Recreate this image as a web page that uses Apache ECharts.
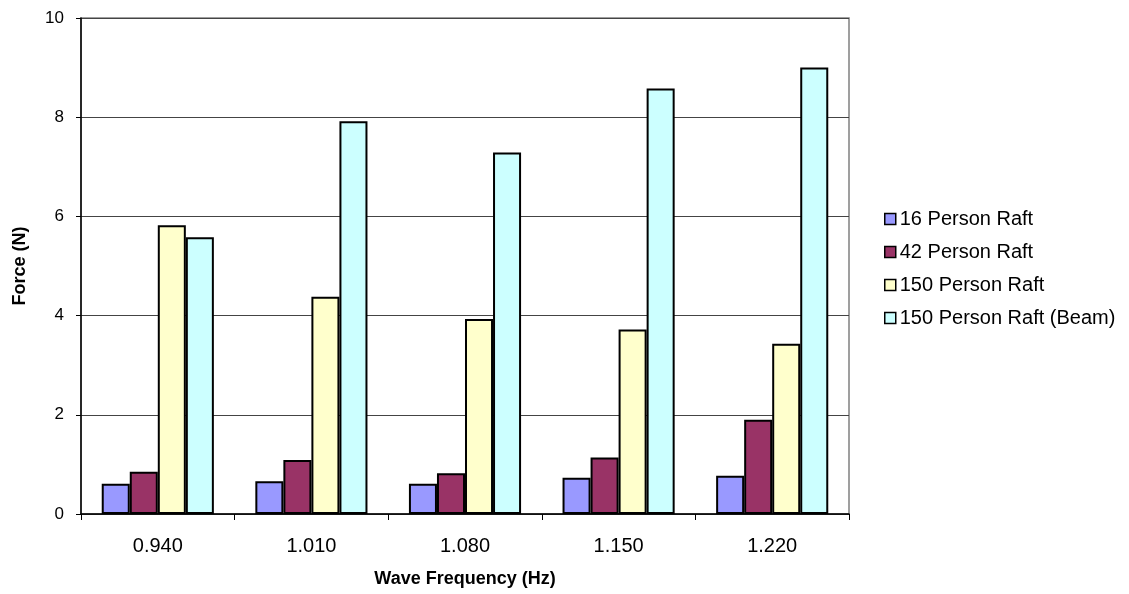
<!DOCTYPE html>
<html>
<head>
<meta charset="utf-8">
<script src="https://cdn.jsdelivr.net/npm/echarts@6/dist/echarts.min.js"></script>
<style>
html,body{margin:0;padding:0;background:#fff;}
#chart{width:1129px;height:594px;}
</style>
</head>
<body>
<div id="chart"></div>
<script>
const categories = ['0.940', '1.010', '1.080', '1.150', '1.220'];
const seriesNames = ['16 Person Raft', '42 Person Raft', '150 Person Raft', '150 Person Raft (Beam)'];
const raft16 = [0.61, 0.66, 0.61, 0.73, 0.77];
const raft42 = [0.85, 1.09, 0.82, 1.14, 1.90];
const raft150 = [5.82, 4.38, 3.93, 3.72, 3.43];
const raft150Beam = [5.58, 7.92, 7.29, 8.58, 9.00];
const colors = ['#9999FF', '#993366', '#FFFFCC', '#CCFFFF'];

const FONT = "'Liberation Sans', Arial, sans-serif";
const allData = [raft16, raft42, raft150, raft150Beam];

const chart = echarts.init(document.getElementById('chart'), null, {renderer: 'canvas'});
chart.setOption({
  animation: false,
  backgroundColor: '#ffffff',
  textStyle: {fontFamily: FONT, color: '#000'},
  grid: {left: 81, top: 18, right: 280, bottom: 80, show: true, borderColor: '#808080', borderWidth: 1.5},
  legend: {
    orient: 'vertical',
    left: 879,
    top: 204,
    itemWidth: 11,
    itemHeight: 11,
    itemGap: 13,
    icon: 'rect',
    itemStyle: {borderColor: '#000', borderWidth: 1.5},
    textStyle: {fontFamily: FONT, fontSize: 20, color: '#000', padding: [0, 0, 0, -1]},
    data: seriesNames
  },
  xAxis: {
    type: 'category',
    data: categories,
    name: 'Wave Frequency (Hz)',
    nameLocation: 'middle',
    nameGap: 56,
    nameTextStyle: {fontFamily: FONT, fontSize: 18, fontWeight: 'bold', color: '#000'},
    axisLine: {show: true, lineStyle: {color: '#000', width: 1.5}},
    axisTick: {show: true, length: 6, lineStyle: {color: '#000', width: 1}},
    axisLabel: {fontFamily: FONT, fontSize: 20, color: '#000', margin: 22},
    splitLine: {show: false}
  },
  yAxis: {
    type: 'value',
    min: 0,
    max: 10,
    interval: 2,
    name: 'Force (N)',
    nameLocation: 'middle',
    nameGap: 52,
    nameTextStyle: {fontFamily: FONT, fontSize: 18, fontWeight: 'bold', color: '#000'},
    axisLine: {show: true, lineStyle: {color: '#000', width: 1.5}},
    axisTick: {show: true, length: 5, lineStyle: {color: '#000', width: 1}},
    axisLabel: {fontFamily: FONT, fontSize: 17, color: '#000', margin: 17},
    splitLine: {show: true, lineStyle: {color: '#444', width: 1}}
  },
  series: seriesNames.map((name, i) => ({
    name: name,
    type: 'bar',
    data: allData[i],
    barGap: '0%',
    barCategoryGap: '27%',
    itemStyle: {color: colors[i], borderColor: '#000', borderWidth: 2}
  }))
});
</script>
</body>
</html>
